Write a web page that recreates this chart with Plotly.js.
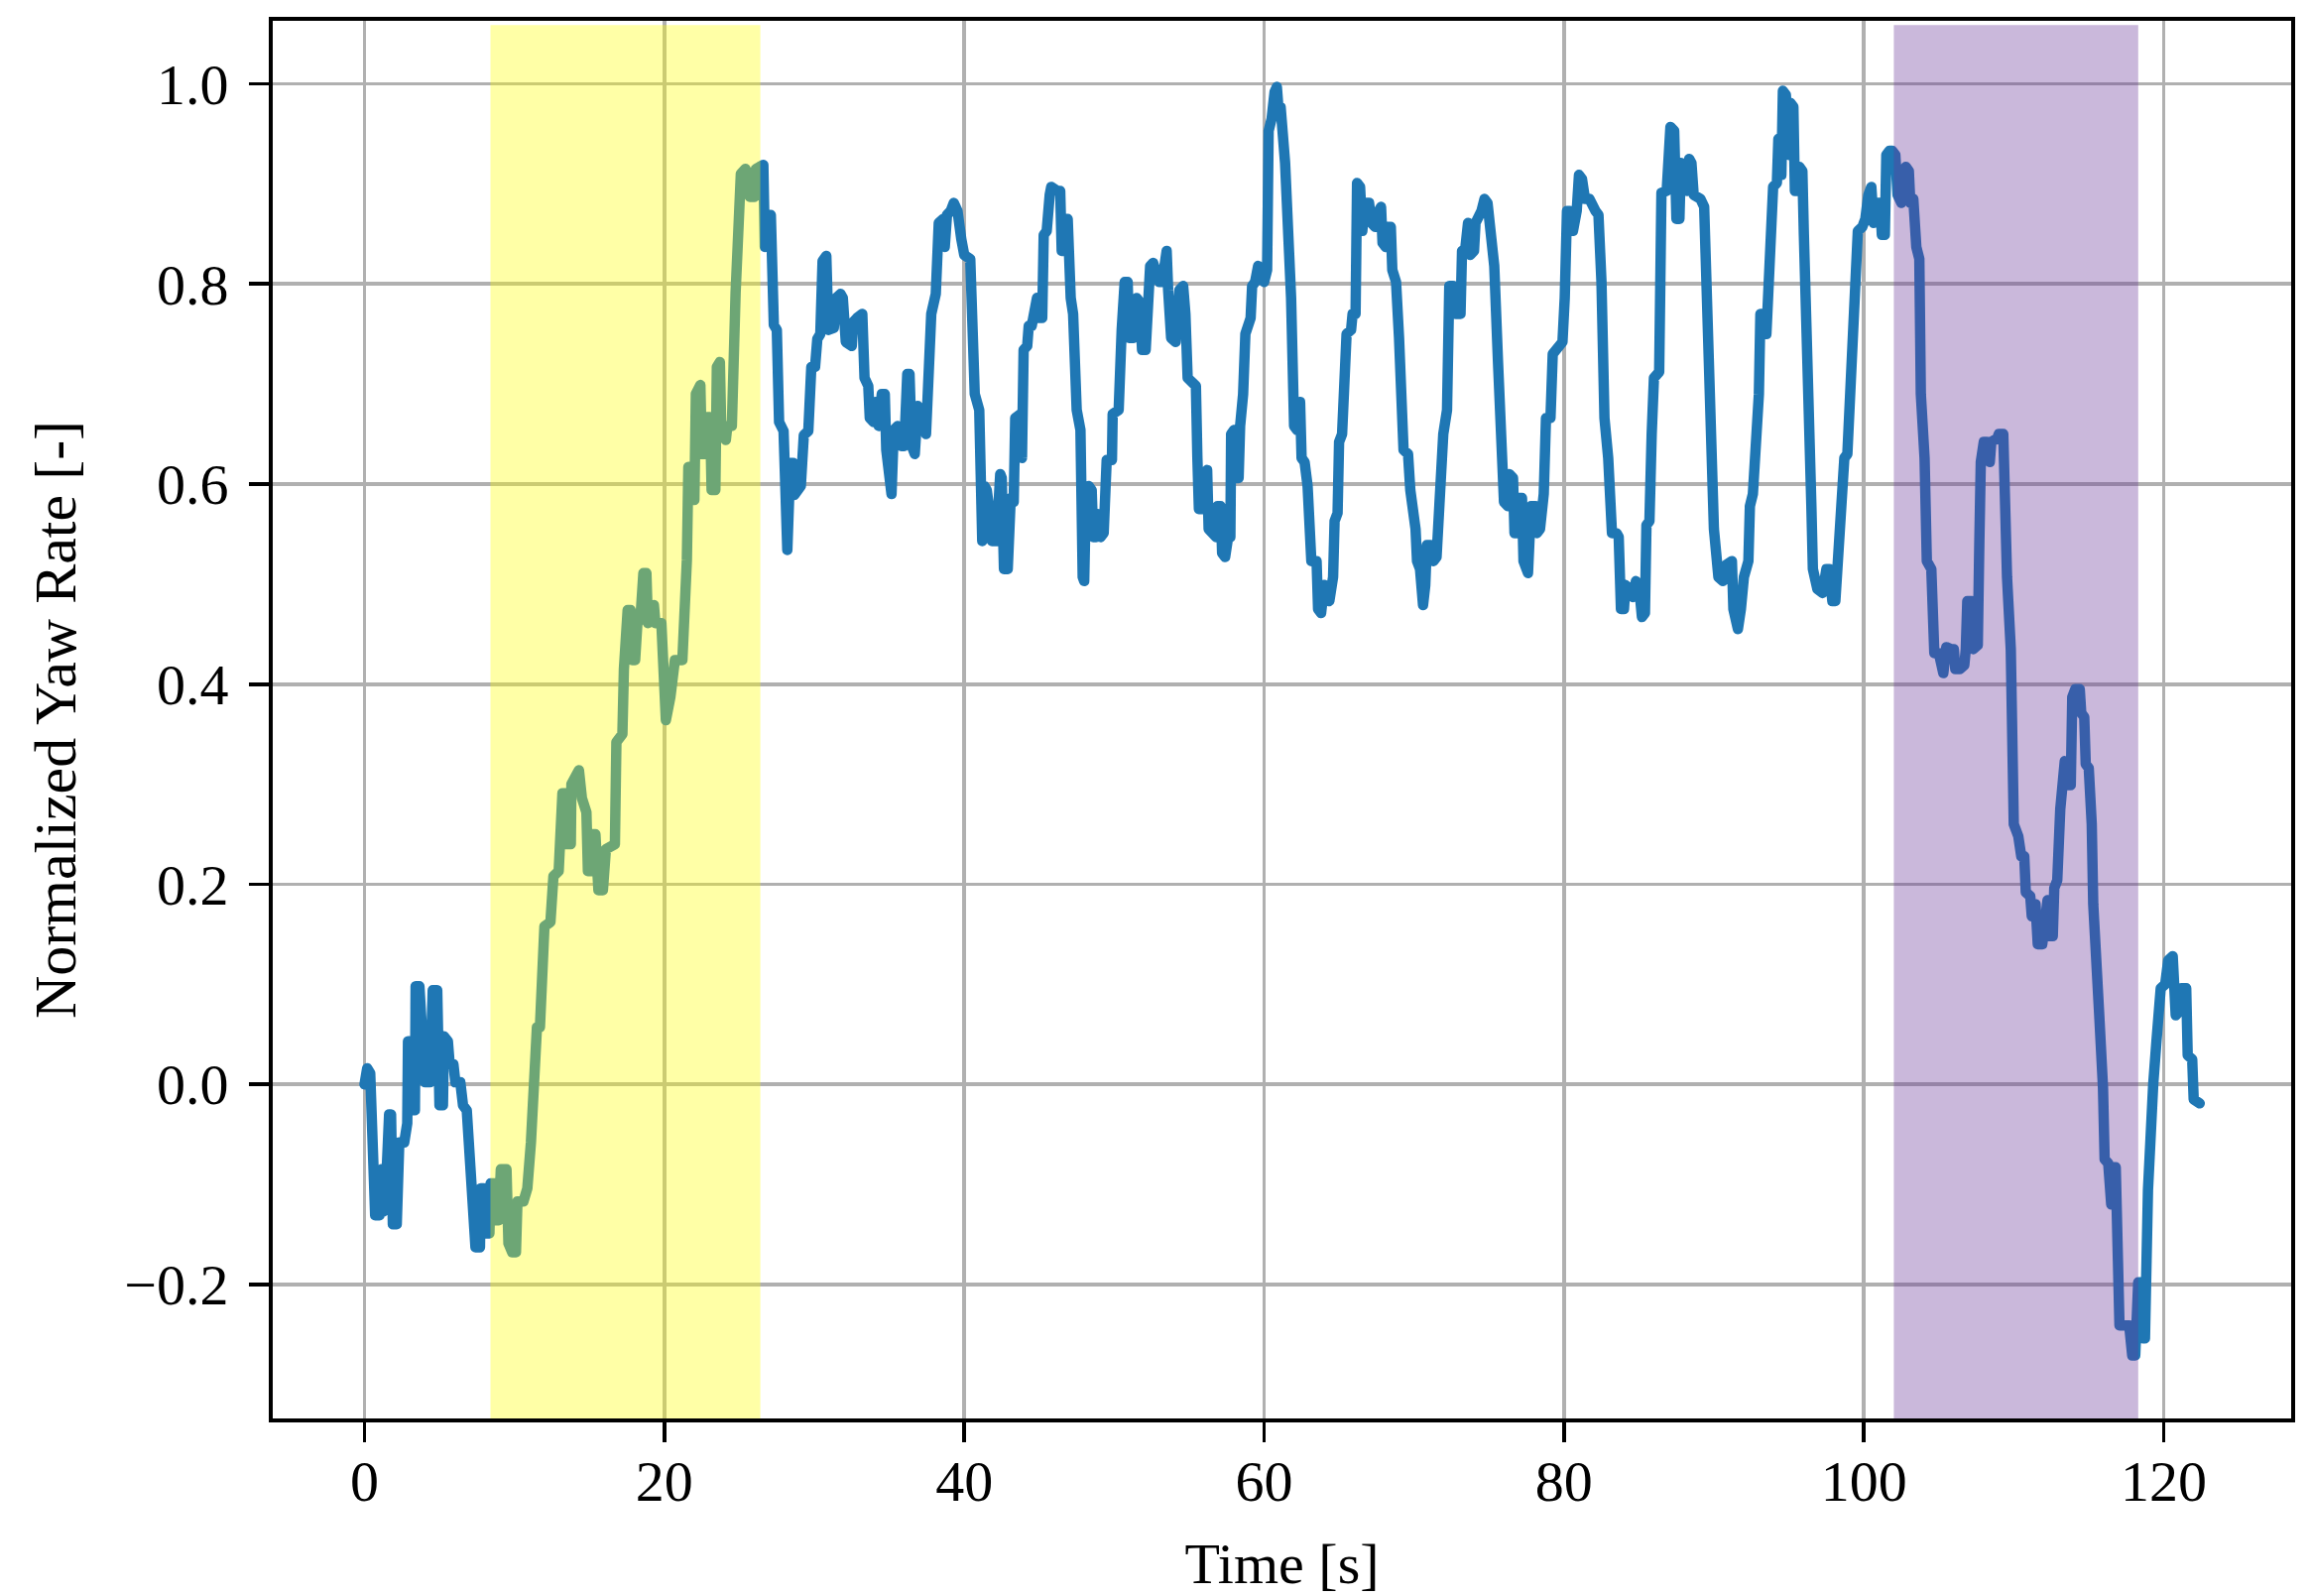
<!DOCTYPE html>
<html>
<head>
<meta charset="utf-8">
<script src="https://cdn.plot.ly/plotly-3.0.1.min.js"></script>
<style>
	html, body { margin: 0; padding: 0; background: #fff; }
	#chart { width: 2329px; height: 1609px; }
	/* matplotlib-like round joins on the trace */
	#chart .scatterlayer .js-line { stroke-linejoin: round !important; stroke-linecap: round !important; }
</style>
</head>
<body>
<div id="chart"></div>
<script>

// time axis [s]
const timeS = [
	0, 0.18, 0.38, 0.58, 0.71, 1.0, 1.14, 1.26, 1.39, 1.64, 1.77, 1.89, 2.15, 2.32, 2.65, 2.85, 2.9, 3.1, 3.16, 3.36,
	3.41, 3.66, 3.79, 3.96, 4.04, 4.37, 4.55, 4.85, 5.0, 5.23, 5.3, 5.56, 5.68, 5.93, 6.06, 6.39, 6.57, 6.82, 7.07, 7.4,
	7.7, 7.75, 7.95, 8.08, 8.33, 8.41, 8.66, 8.76, 8.96, 9.09, 9.47, 9.6, 9.85, 10.1, 10.2, 10.6, 10.86, 11.1, 11.5, 11.7,
	12.0, 12.4, 12.6, 12.95, 13.2, 13.46, 13.5, 13.76, 13.8, 14.3, 14.5, 14.8, 14.9, 15.15, 15.2, 15.4, 15.6, 15.9, 16.1, 16.7,
	16.8, 17.2, 17.3, 17.55, 17.75, 17.85, 18.05, 18.2, 18.4, 18.6, 18.8, 18.9, 19.3, 19.4, 19.8, 19.95, 20.1, 20.4, 20.7, 21.2,
	21.5, 21.6, 21.8, 21.9, 22.0, 22.1, 22.4, 22.5, 22.7, 22.85, 23.05, 23.15, 23.4, 23.5, 23.7, 23.8, 24.1, 24.2, 24.5, 24.75,
	24.9, 25.1, 25.4, 25.6, 25.7, 26.0, 26.1, 26.4, 26.6, 26.7, 26.85, 27.1, 27.3, 27.5, 27.65, 27.95, 28.2, 28.4, 28.6, 28.66,
	28.96, 29.1, 29.3, 29.6, 29.8, 30.05, 30.2, 30.4, 30.55, 30.8, 30.94, 31.3, 31.46, 31.75, 31.9, 32.1, 32.5, 32.6, 32.85, 33.2,
	33.35, 33.6, 33.7, 33.95, 34.1, 34.3, 34.5, 34.7, 34.8, 35.05, 35.15, 35.3, 35.55, 35.8, 36.0, 36.2, 36.35, 36.5, 36.7, 36.9,
	37.1, 37.45, 37.6, 37.8, 38.1, 38.3, 38.6, 38.7, 38.85, 39.1, 39.3, 39.55, 39.8, 40.0, 40.4, 40.55, 40.7, 41.0, 41.2, 41.35,
	41.5, 41.75, 41.85, 42.15, 42.4, 42.5, 42.65, 42.9, 43.1, 43.3, 43.4, 43.75, 43.85, 43.96, 44.2, 44.3, 44.5, 44.7, 44.85, 45.0,
	45.2, 45.3, 45.5, 45.7, 45.8, 46.2, 46.4, 46.5, 46.6, 46.7, 46.9, 47.1, 47.26, 47.5, 47.75, 47.9, 48.0, 48.1, 48.3, 48.5,
	48.6, 48.8, 48.9, 49.1, 49.3, 49.5, 49.85, 49.9, 50.3, 50.5, 50.7, 50.9, 51.0, 51.3, 51.4, 51.5, 51.7, 51.86, 52.1, 52.3,
	52.4, 52.6, 52.8, 53.0, 53.2, 53.35, 53.5, 53.6, 53.8, 54.1, 54.2, 54.35, 54.6, 54.75, 54.9, 55.2, 55.45, 55.55, 55.65, 55.9,
	56.1, 56.2, 56.3, 56.5, 56.8, 56.9, 57.1, 57.2, 57.4, 57.6, 57.75, 57.8, 58.0, 58.1, 58.3, 58.4, 58.6, 58.75, 59.0, 59.1,
	59.2, 59.4, 59.6, 59.85, 60.0, 60.2, 60.3, 60.5, 60.7, 60.85, 60.95, 61.1, 61.4, 61.6, 61.8, 62.0, 62.2, 62.4, 62.5, 62.7,
	62.9, 63.15, 63.5, 63.6, 63.8, 64.0, 64.2, 64.35, 64.6, 64.7, 64.9, 65.0, 65.2, 65.5, 65.8, 65.9, 66.1, 66.2, 66.4, 66.55,
	66.7, 67.0, 67.15, 67.4, 67.65, 67.8, 67.9, 68.1, 68.2, 68.45, 68.55, 68.8, 69.0, 69.2, 69.3, 69.6, 69.75, 70.1, 70.2, 70.4,
	70.6, 70.75, 70.85, 71.1, 71.3, 71.5, 71.7, 71.95, 72.2, 72.35, 72.6, 72.8, 73.1, 73.2, 73.4, 73.6, 73.75, 74.0, 74.1, 74.3,
	74.5, 74.7, 74.9, 75.1, 75.35, 75.6, 75.8, 76.0, 76.25, 76.35, 76.6, 76.7, 76.9, 77.0, 77.2, 77.3, 77.6, 77.8, 78.1, 78.2,
	78.4, 78.65, 78.8, 79.1, 79.25, 79.5, 79.9, 80.05, 80.2, 80.4, 80.6, 80.85, 81.0, 81.2, 81.4, 81.7, 81.85, 82.1, 82.3, 82.5,
	82.7, 82.95, 83.2, 83.5, 83.65, 83.8, 84.0, 84.1, 84.4, 84.6, 84.8, 85.0, 85.2, 85.4, 85.5, 85.7, 85.85, 86.0, 86.35, 86.5,
	86.85, 87.1, 87.35, 87.5, 87.7, 87.8, 88.0, 88.2, 88.35, 88.5, 88.65, 89.1, 89.35, 89.5, 89.8, 90.0, 90.3, 90.6, 90.8, 91.2,
	91.3, 91.5, 91.6, 91.8, 92.0, 92.3, 92.4, 92.6, 92.8, 93.0, 93.1, 93.3, 93.5, 93.6, 93.8, 93.95, 94.2, 94.3, 94.5, 94.6,
	94.8, 95.0, 95.1, 95.3, 95.4, 95.6, 95.7, 95.9, 96.0, 96.2, 96.5, 96.6, 96.9, 97.25, 97.5, 97.7, 97.9, 98.1, 98.3, 98.5,
	98.7, 98.9, 99.05, 99.2, 99.45, 99.6, 99.9, 100.1, 100.3, 100.5, 100.65, 100.8, 101.1, 101.2, 101.4, 101.5, 101.7, 101.9, 102.1, 102.25,
	102.5, 102.65, 102.8, 103.0, 103.1, 103.3, 103.5, 103.7, 103.8, 104.05, 104.2, 104.5, 104.7, 105.0, 105.3, 105.5, 105.8, 106.0, 106.1, 106.4,
	106.7, 106.8, 106.9, 107.2, 107.3, 107.6, 107.7, 107.8, 108.0, 108.2, 108.4, 108.5, 108.9, 109.0, 109.3, 109.4, 109.55, 109.8, 110.0, 110.3,
	110.5, 110.7, 110.8, 111.1, 111.2, 111.45, 111.6, 111.9, 112.1, 112.25, 112.4, 112.6, 112.7, 112.9, 113.1, 113.3, 113.4, 113.5, 113.8, 113.9,
	114.1, 114.4, 114.5, 114.7, 114.8, 115.0, 115.2, 115.3, 115.5, 115.7, 115.95, 116.06, 116.3, 116.4, 116.5, 116.6, 116.8, 117.05, 117.7, 117.9,
	118.1, 118.3, 118.45, 118.6, 118.75, 118.95, 119.1, 119.3, 119.5, 119.7, 119.8, 120.1, 120.3, 120.6, 120.7, 120.8, 121.05, 121.2, 121.5, 121.6,
	121.9, 122.0, 122.4
];

// normalized yaw rate [-]
const yawRate = [
	0.0, 0.016, 0.011, -0.067, -0.131, -0.131, -0.085, -0.127, -0.117, -0.03, -0.03, -0.14, -0.14, -0.058, -0.058, -0.039, 0.043, 0.043, -0.026, -0.026,
	0.098, 0.098, 0.066, 0.061, 0.002, 0.002, 0.094, 0.094, -0.021, -0.021, 0.048, 0.043, 0.02, 0.02, 0.002, 0.002, -0.021, -0.026, -0.09, -0.163,
	-0.163, -0.104, -0.104, -0.149, -0.149, -0.099, -0.099, -0.136, -0.136, -0.085, -0.085, -0.159, -0.168, -0.168, -0.117, -0.117, -0.104, -0.058, 0.057, 0.057,
	0.158, 0.162, 0.208, 0.213, 0.291, 0.291, 0.24, 0.24, 0.3, 0.314, 0.286, 0.272, 0.213, 0.213, 0.25, 0.25, 0.194, 0.194, 0.235, 0.24,
	0.342, 0.35, 0.415, 0.474, 0.474, 0.424, 0.424, 0.461, 0.465, 0.511, 0.511, 0.461, 0.479, 0.461, 0.461, 0.378, 0.364, 0.387, 0.424, 0.424,
	0.524, 0.617, 0.617, 0.584, 0.584, 0.69, 0.699, 0.63, 0.63, 0.667, 0.667, 0.594, 0.594, 0.717, 0.722, 0.65, 0.644, 0.658, 0.658, 0.791,
	0.892, 0.91, 0.915, 0.91, 0.887, 0.887, 0.915, 0.919, 0.919, 0.837, 0.869, 0.869, 0.759, 0.754, 0.662, 0.653, 0.534, 0.621, 0.621, 0.589,
	0.598, 0.598, 0.649, 0.653, 0.717, 0.717, 0.745, 0.75, 0.823, 0.828, 0.754, 0.756, 0.786, 0.79, 0.786, 0.742, 0.738, 0.762, 0.766, 0.77,
	0.706, 0.698, 0.666, 0.662, 0.682, 0.658, 0.69, 0.69, 0.634, 0.59, 0.59, 0.654, 0.658, 0.638, 0.638, 0.71, 0.71, 0.638, 0.63, 0.678,
	0.674, 0.65, 0.722, 0.77, 0.79, 0.861, 0.865, 0.837, 0.869, 0.873, 0.881, 0.873, 0.845, 0.829, 0.825, 0.754, 0.69, 0.674, 0.543, 0.598,
	0.594, 0.566, 0.543, 0.543, 0.61, 0.606, 0.515, 0.515, 0.586, 0.582, 0.666, 0.67, 0.626, 0.734, 0.738, 0.758, 0.758, 0.786, 0.786, 0.766,
	0.766, 0.849, 0.853, 0.889, 0.897, 0.893, 0.893, 0.833, 0.833, 0.865, 0.865, 0.786, 0.77, 0.674, 0.654, 0.507, 0.503, 0.578, 0.598, 0.594,
	0.547, 0.547, 0.57, 0.547, 0.551, 0.624, 0.624, 0.67, 0.674, 0.754, 0.802, 0.802, 0.746, 0.746, 0.778, 0.786, 0.782, 0.734, 0.734, 0.786,
	0.818, 0.821, 0.81, 0.802, 0.802, 0.833, 0.833, 0.794, 0.746, 0.742, 0.778, 0.794, 0.798, 0.77, 0.706, 0.702, 0.698, 0.626, 0.575, 0.575,
	0.614, 0.614, 0.555, 0.551, 0.547, 0.578, 0.578, 0.531, 0.527, 0.547, 0.547, 0.65, 0.654, 0.606, 0.606, 0.658, 0.69, 0.75, 0.758, 0.766,
	0.798, 0.802, 0.818, 0.814, 0.802, 0.814, 0.953, 0.965, 0.992, 0.997, 0.977, 0.977, 0.921, 0.873, 0.786, 0.658, 0.654, 0.682, 0.626, 0.622,
	0.598, 0.523, 0.523, 0.475, 0.471, 0.499, 0.483, 0.483, 0.507, 0.563, 0.571, 0.642, 0.65, 0.75, 0.754, 0.77, 0.77, 0.901, 0.897, 0.853,
	0.881, 0.881, 0.861, 0.857, 0.873, 0.877, 0.841, 0.837, 0.857, 0.857, 0.814, 0.802, 0.746, 0.642, 0.634, 0.63, 0.594, 0.555, 0.523, 0.515,
	0.479, 0.499, 0.539, 0.539, 0.523, 0.527, 0.594, 0.65, 0.674, 0.798, 0.798, 0.77, 0.77, 0.833, 0.833, 0.861, 0.829, 0.833, 0.861, 0.865,
	0.873, 0.885, 0.881, 0.853, 0.818, 0.722, 0.626, 0.582, 0.578, 0.61, 0.606, 0.551, 0.551, 0.586, 0.586, 0.523, 0.511, 0.578, 0.578, 0.551,
	0.555, 0.59, 0.666, 0.666, 0.73, 0.734, 0.742, 0.786, 0.873, 0.873, 0.853, 0.873, 0.909, 0.905, 0.885, 0.885, 0.877, 0.873, 0.869, 0.802,
	0.666, 0.626, 0.551, 0.551, 0.547, 0.475, 0.475, 0.499, 0.495, 0.487, 0.503, 0.499, 0.467, 0.471, 0.559, 0.563, 0.65, 0.706, 0.712, 0.891,
	0.893, 0.957, 0.953, 0.865, 0.865, 0.921, 0.917, 0.893, 0.925, 0.921, 0.889, 0.885, 0.877, 0.818, 0.666, 0.555, 0.507, 0.503, 0.519, 0.523,
	0.475, 0.455, 0.455, 0.475, 0.507, 0.523, 0.578, 0.59, 0.626, 0.69, 0.77, 0.77, 0.75, 0.786, 0.841, 0.897, 0.901, 0.945, 0.909, 0.993,
	0.989, 0.929, 0.981, 0.977, 0.893, 0.893, 0.917, 0.913, 0.849, 0.69, 0.578, 0.515, 0.495, 0.491, 0.515, 0.515, 0.483, 0.483, 0.531, 0.555,
	0.626, 0.63, 0.682, 0.682, 0.77, 0.853, 0.857, 0.865, 0.889, 0.897, 0.861, 0.881, 0.881, 0.849, 0.849, 0.929, 0.933, 0.933, 0.929, 0.889,
	0.881, 0.885, 0.917, 0.913, 0.881, 0.885, 0.837, 0.825, 0.69, 0.626, 0.523, 0.515, 0.431, 0.431, 0.411, 0.437, 0.435, 0.435, 0.415, 0.415,
	0.419, 0.435, 0.483, 0.483, 0.435, 0.439, 0.539, 0.622, 0.642, 0.642, 0.622, 0.642, 0.646, 0.65, 0.65, 0.578, 0.507, 0.435, 0.26, 0.248,
	0.228, 0.228, 0.192, 0.188, 0.168, 0.18, 0.14, 0.14, 0.184, 0.184, 0.148, 0.148, 0.196, 0.204, 0.275, 0.323, 0.323, 0.299, 0.299, 0.387,
	0.395, 0.395, 0.371, 0.367, 0.32, 0.316, 0.26, 0.18, 0.092, 0.069, -0.003, -0.075, -0.079, -0.12, -0.12, -0.083, -0.083, -0.241, -0.241, -0.271,
	-0.271, -0.198, -0.198, -0.254, -0.254, -0.106, -0.03, 0.0, 0.04, 0.088, 0.096, 0.1, 0.124, 0.128, 0.092, 0.069, 0.073, 0.096, 0.096, 0.029,
	0.025, -0.015, -0.019
];

// highlighted time windows [s]
const spanStart = [8.4, 102.0];
const spanEnd = [26.4, 118.3];
const spanColor = ['yellow', 'rebeccapurple'];

const xTicks = [0, 20, 40, 60, 80, 100, 120];
const yTicks = [-0.2, 0, 0.2, 0.4, 0.6, 0.8, 1.0];

const FONT = '"Liberation Serif", "DejaVu Serif", "Times New Roman", serif';

function axisBase(){
	return {
		showline: true,
		linecolor: '#000',
		linewidth: 4,
		mirror: true,
		ticks: 'outside',
		ticklen: 20,
		tickwidth: 3.8,
		tickcolor: '#000',
		showgrid: true,
		gridcolor: '#b0b0b0',
		gridwidth: 3.6,
		zeroline: false,
		tickfont: { family: FONT, size: 58, color: '#000' }
	};
}

const trace = {
	x: timeS,
	y: yawRate,
	mode: 'lines',
	line: { color: '#1f77b4', width: 10.5, shape: 'linear' },
	hoverinfo: 'skip'
};

const shapes = spanStart.map((x0, i) => ({
	type: 'rect',
	xref: 'x',
	yref: 'paper',
	x0,
	x1: spanEnd[i],
	y0: 0,
	y1: 0.997,
	fillcolor: spanColor[i],
	opacity: 0.35,
	line: { width: 0 },
	layer: 'above'
}));

const layout = {
	width: 2329,
	height: 1609,
	margin: { l: 275, r: 19, t: 21, b: 179, pad: 0 },
	paper_bgcolor: '#fff',
	plot_bgcolor: '#fff',
	showlegend: false,
	font: { family: FONT, size: 58, color: '#000' },
	xaxis: Object.assign(axisBase(), {
		range: [-6.12, 128.5],
		tickvals: xTicks,
		ticktext: xTicks.map(String),
		ticklabelstandoff: -11,
		title: { text: 'Time [s]', font: { family: FONT, size: 58, color: '#000' }, standoff: 35 }
	}),
	yaxis: Object.assign(axisBase(), {
		range: [-0.334, 1.063],
		tickvals: yTicks,
		ticktext: yTicks.map(v => v < 0 ? '\u2212' + Math.abs(v).toFixed(1) : v.toFixed(1)),
		ticklabelstandoff: 9,
		title: { text: 'Normalized Yaw Rate [-]', font: { family: FONT, size: 60, color: '#000' }, standoff: 30 }
	}),
	shapes
};

Plotly.newPlot('chart', [trace], layout, {
	displayModeBar: false,
	staticPlot: true
});
</script>
</body>
</html>
